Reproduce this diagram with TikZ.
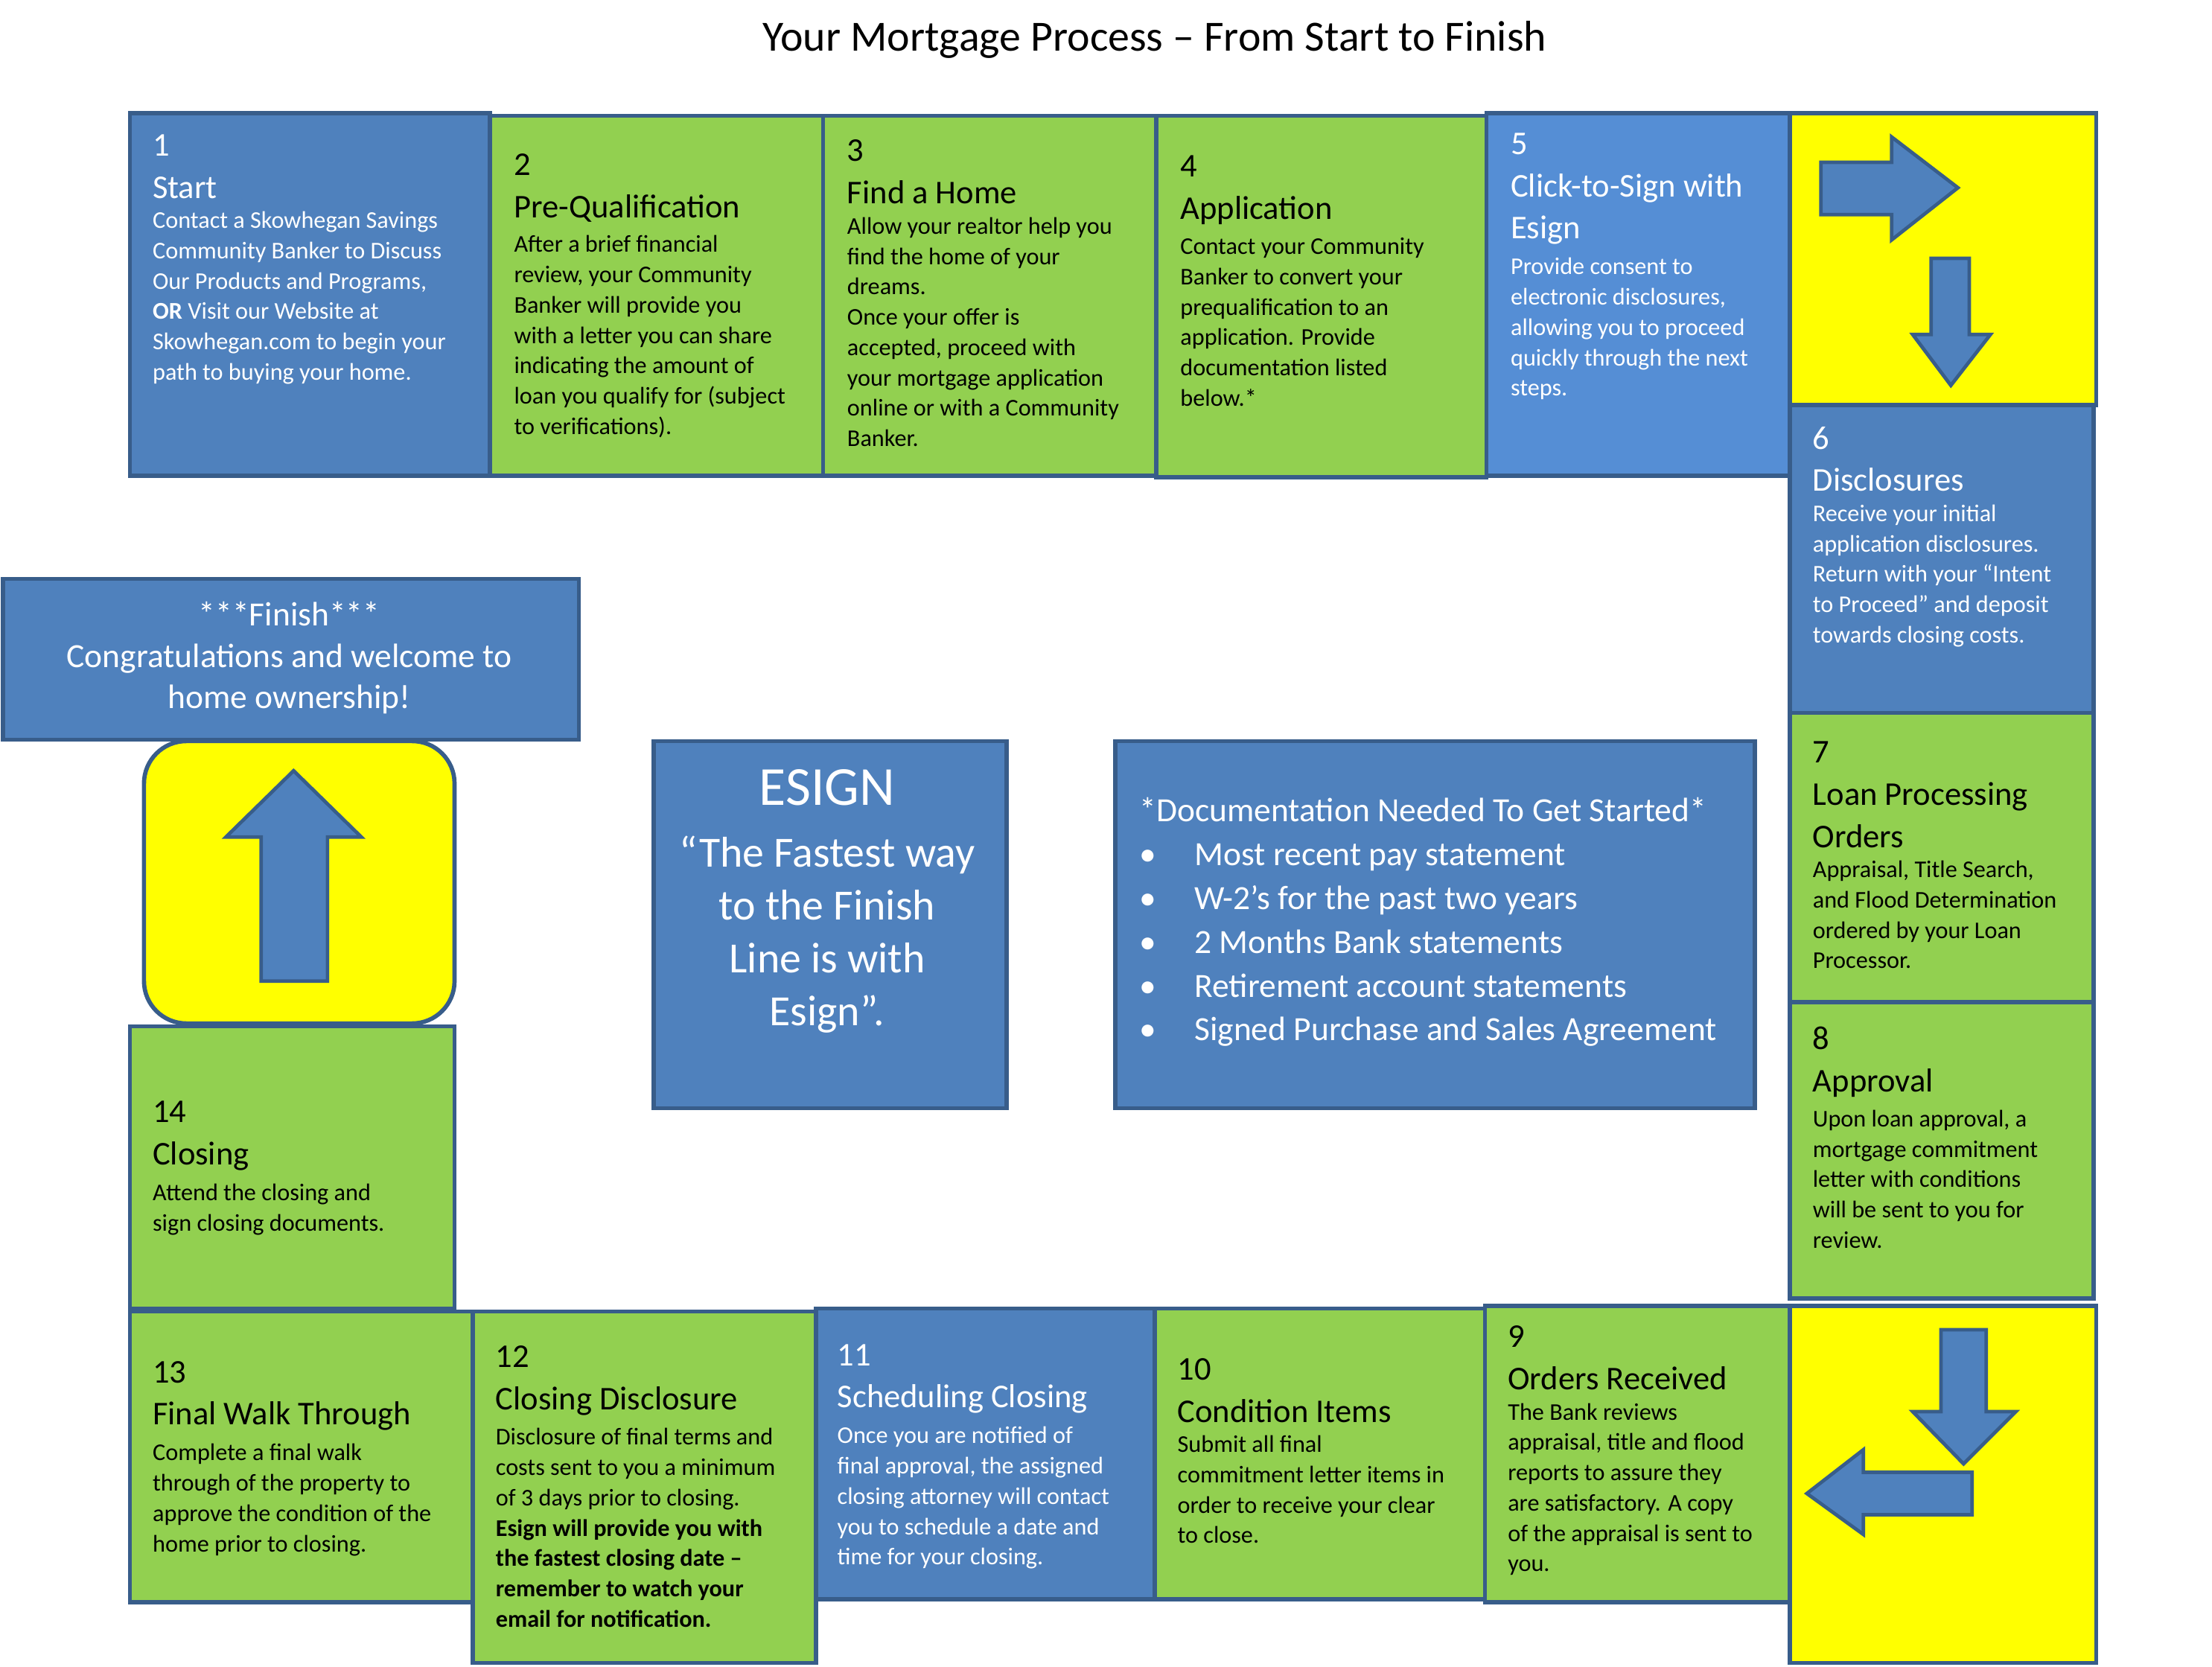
\documentclass[tikz,border=0pt]{standalone}
\usepackage{fontspec}
\setmainfont{Carlito}
\definecolor{bblue}{HTML}{4F81BD}
\definecolor{lblue}{HTML}{558ED5}
\definecolor{gr}{HTML}{92D050}
\definecolor{bd}{HTML}{385D8A}
\definecolor{yl}{HTML}{FFFF00}
\tikzset{box/.style={draw=bd,line width=3pt},
 arr/.style={draw=bd,line width=2.5pt,fill=bblue,line join=miter},
 hdw/.style={anchor=north west,align=left,inner sep=0pt,text=white,font=\fontsize{23.5}{30}\selectfont},
 hdb/.style={hdw,text=black},
 txw/.style={anchor=north west,align=left,inner sep=0pt,text=white,font=\fontsize{17}{21.5}\selectfont},
 txb/.style={txw,text=black}}
\newcommand{\bxtext}[6]{%
 \node[hd#6] (h#1) at (#2,#3+5) {#4};
 \node[tx#6,yshift=-9pt] (b#1) at (h#1.south west) {#5};}
\begin{document}
\begin{tikzpicture}[x=1pt,y=-1pt]
\useasboundingbox[fill=white] (0,0) rectangle (1567,1180.5);
\node[font=\fontsize{30.5}{34}\selectfont] (title) at (818,28) {Your Mortgage Process -- From Start to Finish};
\draw[box,fill=bblue] (92,80) rectangle (347,337);
\draw[box,fill=gr] (347,82) rectangle (583,337);
\draw[box,fill=gr] (583,82) rectangle (819,337);
\draw[box,fill=gr] (819,82) rectangle (1053,338);
\draw[box,fill=lblue] (1053,80) rectangle (1268,337);
\draw[box,fill=yl] (1268,80) rectangle (1485,287);
\draw[box,fill=bblue] (1268,287) rectangle (1483,505);
\draw[box,fill=gr] (1268,505) rectangle (1483,710);
\draw[box,fill=gr] (1268,710) rectangle (1483,920);
\draw[box,fill=yl] (1268,925) rectangle (1485,1178);
\draw[box,fill=gr] (1052,925) rectangle (1268,1135);
\draw[box,fill=gr] (818,927) rectangle (1052,1133);
\draw[box,fill=bblue] (578,927) rectangle (818,1133);
\draw[box,fill=gr] (335,929) rectangle (578,1178);
\draw[box,fill=gr] (92,929) rectangle (335,1135);
\draw[box,fill=gr] (92,727) rectangle (322,927);
\draw[box,fill=yl,rounded corners=30pt] (102,525) rectangle (322,725);
\draw[box,fill=bblue] (2,410) rectangle (410,524);
\draw[box,fill=bblue] (463,525) rectangle (713,785);
\draw[box,fill=bblue] (790,525) rectangle (1243,785);
\draw[arr] (1290,115)--(1340,115)--(1340,97)--(1387,133)--(1340,170)--(1340,152)--(1290,152)--cycle;
\draw[arr] (1368,183)--(1395,183)--(1395,237)--(1410,237)--(1382,273)--(1355,237)--(1368,237)--cycle;
\draw[arr] (1375,942)--(1407,942)--(1407,1000)--(1428,1000)--(1391,1037)--(1355,1000)--(1375,1000)--cycle;
\draw[arr] (1397,1043)--(1397,1073)--(1320,1073)--(1320,1087)--(1280,1058)--(1320,1027)--(1320,1043)--cycle;
\draw[arr] (185,695)--(185,593)--(160,593)--(208,546)--(256,593)--(232,593)--(232,695)--cycle;
\bxtext{1}{108}{90}{1\\Start}{Contact a Skowhegan Savings\\Community Banker to Discuss\\Our Products and Programs,\\\textbf{OR} Visit our Website at\\Skowhegan.com to begin your\\path to buying your home.}{w}
\bxtext{2}{364}{104}{2\\Pre-Qualification}{After a brief financial\\review, your Community\\Banker will provide you\\with a letter you can share\\indicating the amount of\\loan you qualify for (subject\\to verifications).}{b}
\bxtext{3}{600}{94}{3\\Find a Home}{Allow your realtor help you\\find the  home of your\\dreams.\\Once your offer is\\accepted, proceed with\\your mortgage application\\online or with a Community\\Banker.}{b}
\bxtext{4}{836}{105}{4\\Application}{Contact your Community\\Banker to convert your\\prequalification to an\\application. Provide\\documentation listed\\below.*}{b}
\bxtext{5}{1070}{89}{5\\Click-to-Sign with\\Esign}{Provide consent to\\electronic disclosures,\\allowing you to proceed\\quickly through the next\\steps.}{w}
\bxtext{6}{1284}{297}{6\\Disclosures}{Receive your initial\\application disclosures.\\Return with your “Intent\\to Proceed” and deposit\\towards closing costs.}{w}
\bxtext{7}{1284}{520}{7\\Loan Processing\\Orders}{Appraisal, Title Search,\\and Flood Determination\\ordered by your Loan\\Processor.}{b}
\bxtext{8}{1284}{722}{8\\Approval}{Upon loan approval, a\\mortgage commitment\\letter with conditions\\will be sent to you for\\review.}{b}
\bxtext{9}{1068}{934}{9\\Orders Received}{The Bank reviews\\appraisal, title and flood\\reports to assure they\\are satisfactory. A copy\\of the appraisal is sent to\\you.}{b}
\bxtext{10}{834}{957}{10\\Condition Items}{Submit all final\\commitment letter items in\\order to receive your clear\\to close.}{b}
\bxtext{11}{593}{947}{11\\Scheduling Closing}{Once you are notified of\\final approval, the assigned\\closing attorney will contact\\you to schedule a  date and\\time for your closing.}{w}
\bxtext{12}{351}{948}{12\\Closing Disclosure}{Disclosure of final terms and\\costs sent to you a minimum\\of 3 days prior to closing.\\\textbf{Esign will provide you with}\\\textbf{the fastest closing date --}\\\textbf{remember to watch your}\\\textbf{email for notification.}}{b}
\bxtext{13}{108}{959}{13\\Final Walk Through}{Complete a final walk\\through of the property to\\approve the condition of the\\home prior to closing.}{b}
\bxtext{14}{108}{775}{14\\Closing}{Attend the closing and\\sign closing documents.}{b}
\node[text=white,align=center,font=\fontsize{24}{29.5}\selectfont] (fin) at (205,466) {***Finish***\\Congratulations and welcome to\\home ownership!};
\node[text=white,anchor=north,inner sep=0pt,font=\fontsize{39}{40}\selectfont] (es) at (586,545) {ESIGN};
\node[text=white,align=center,anchor=north,inner sep=0pt,font=\fontsize{30.5}{37.5}\selectfont] (esq) at (586,592) {“The Fastest way\\to the Finish\\Line is with\\Esign”.};
\node[text=white,align=left,anchor=north west,inner sep=0pt,font=\fontsize{24}{31}\selectfont] (doc) at (807,565) {*Documentation Needed To Get Started*\\
\makebox[39pt][l]{\textbullet}Most recent pay statement\\
\makebox[39pt][l]{\textbullet}W-2’s for the past two years\\
\makebox[39pt][l]{\textbullet}2 Months Bank statements\\
\makebox[39pt][l]{\textbullet}Retirement account statements\\
\makebox[39pt][l]{\textbullet}Signed Purchase and Sales Agreement};
\end{tikzpicture}
\end{document}
